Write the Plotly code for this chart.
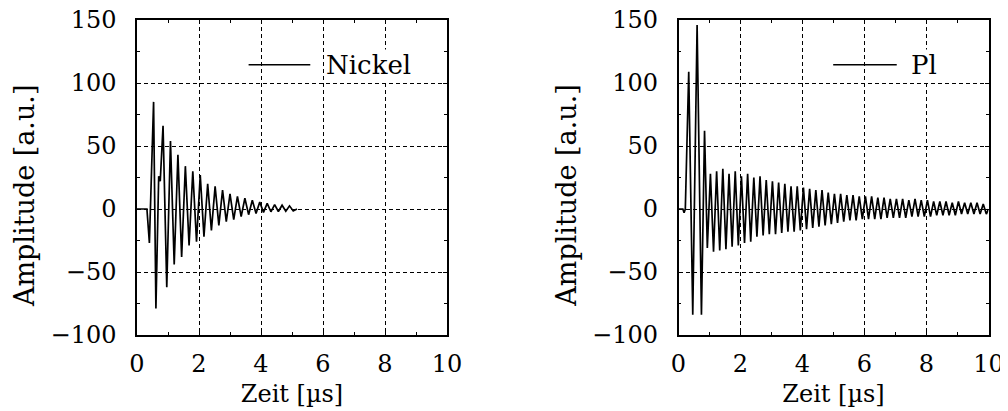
import plotly.graph_objects as go

# ---------------- data ----------------
# Nickel: extrema of the damped oscillation, time in µs, amplitude in a.u.
nickel_t = [0.0, 0.32, 0.40, 0.49, 0.535, 0.61, 0.70, 0.75,
            0.84, 0.96, 1.08, 1.20, 1.32, 1.44, 1.56, 1.68, 1.80, 1.92,
            2.04, 2.16, 2.28, 2.40, 2.52, 2.64, 2.76, 2.88, 3.00, 3.12,
            3.24, 3.36, 3.48, 3.60, 3.72, 3.84, 3.96, 4.08, 4.20, 4.32,
            4.44, 4.56, 4.68, 4.80, 4.92, 5.04, 5.16]
nickel_a = [0, 0, -27, 58, 85, -79, 26, 22,
            66, -62, 54, -44, 43, -38, 34, -29, 30, -26,
            27, -22, 20, -17, 18, -13, 15, -10, 12, -8.5,
            10, -6, 8.5, -4.5, 7, -3.5, 5.5, -2.7, 4.5, -2.2,
            3.5, -2, 3, -1.8, 2.5, -1.5, 0]

# Pl: extrema of the damped oscillation, time in µs, amplitude in a.u.
pl_t = [0.0, 0.14, 0.18, 0.22, 0.33, 0.46, 0.60, 0.74, 0.84, 0.93,
        1.03, 1.13, 1.23, 1.33, 1.43, 1.53, 1.63, 1.73, 1.83, 1.93,
        2.03, 2.13, 2.23, 2.33, 2.43, 2.53, 2.63, 2.73, 2.83, 2.93,
        3.03, 3.13, 3.23, 3.33, 3.43, 3.53, 3.63, 3.73, 3.83, 3.93,
        4.03, 4.13, 4.23, 4.33, 4.43, 4.53, 4.63, 4.73, 4.83, 4.93,
        5.03, 5.13, 5.23, 5.33, 5.43, 5.53, 5.63, 5.73, 5.83, 5.93,
        6.03, 6.13, 6.23, 6.33, 6.43, 6.53, 6.63, 6.73, 6.83, 6.93,
        7.03, 7.13, 7.23, 7.33, 7.43, 7.53, 7.63, 7.73, 7.83, 7.93,
        8.03, 8.13, 8.23, 8.33, 8.43, 8.53, 8.63, 8.73, 8.83, 8.93,
        9.03, 9.13, 9.23, 9.33, 9.43, 9.53, 9.63, 9.73, 9.83, 9.93, 10.0]
pl_a = [0, 0, -3, 0, 109, -84, 146, -84, 62, -31,
        28, -34, 30, -33, 32, -32, 28, -30, 30, -29,
        26, -27, 28, -26, 25, -22, 26, -21, 23, -20,
        22, -20, 21, -19, 20, -18, 18, -18, 18, -17,
        17, -16, 16, -15, 15, -14, 15, -13, 13, -12,
        12, -11, 12, -10, 11, -9, 11, -9, 10, -8,
        10, -8, 10, -8, 9, -8, 9, -7, 8, -7,
        8, -7, 8, -7, 7, -6, 8, -6, 7, -6,
        7, -6, 6, -5, 6, -5, 6, -5, 5, -5,
        6, -4, 5, -4, 5, -4, 5, -4, 4, -4, 0]

series_names = ["Nickel", "Pl"]
x_ticks = [0, 2, 4, 6, 8, 10]
y_ticks = [-100, -50, 0, 50, 100, 150]
x_title = "Zeit [µs]"
y_title = "Amplitude [a.u.]"
legend_y = 114.5

# ---------------- figure ----------------
FONT = "DejaVu Serif"
OFF = 8                      # the page body has an 8 px margin
W, H = 1008 - OFF, 411 - OFF
fig = go.Figure()

fig.add_trace(go.Scatter(x=nickel_t, y=nickel_a, mode="lines",
                         line=dict(color="black", width=1.7),
                         xaxis="x", yaxis="y", showlegend=False))
fig.add_trace(go.Scatter(x=pl_t, y=pl_a, mode="lines",
                         line=dict(color="black", width=1.7),
                         xaxis="x2", yaxis="y2", showlegend=False))

def px_x(p):
    return (p - OFF) / W

def px_y(p):
    return 1 - (p - OFF) / H

ydom = [px_y(335), px_y(20)]
xdom1 = [px_x(137), px_x(447)]
xdom2 = [px_x(678.5), px_x(988.5)]

def xaxis(domain, anchor):
    return dict(domain=domain, anchor=anchor, range=[0, 10], automargin=False,
                tickvals=x_ticks, ticktext=[str(v) for v in x_ticks],
                ticklabeloverflow="allow",
                showgrid=True, gridcolor="black", gridwidth=1, griddash="4px,3px",
                zeroline=False, showline=True, linecolor="black", linewidth=1.5,
                mirror="ticks", ticks="inside", ticklen=4, tickcolor="black",
                minor=dict(dtick=1, ticks="inside", ticklen=3, tickcolor="black", showgrid=False),
                tickfont=dict(family=FONT, size=24, color="black"),
                ticklabelstandoff=6,
                title=dict(text=x_title, font=dict(family=FONT, size=24, color="black"),
                           standoff=9))

def yaxis(domain, anchor):
    return dict(domain=domain, anchor=anchor, range=[-100, 150], automargin=False,
                tickvals=y_ticks, ticktext=[str(v).replace("-", "\u2212") for v in y_ticks],
                ticklabeloverflow="allow",
                showgrid=True, gridcolor="black", gridwidth=1, griddash="4px,3px",
                zeroline=False, showline=True, linecolor="black", linewidth=1.5,
                mirror="ticks", ticks="inside", ticklen=4, tickcolor="black",
                minor=dict(dtick=25, ticks="inside", ticklen=3, tickcolor="black", showgrid=False),
                tickfont=dict(family=FONT, size=24, color="black"),
                ticklabelstandoff=14)

fig.update_layout(
    width=W, height=H,
    margin=dict(l=0, r=0, t=0, b=0),
    paper_bgcolor="white", plot_bgcolor="white",
    xaxis=xaxis(xdom1, "y"), yaxis=yaxis(ydom, "x"),
    xaxis2=xaxis(xdom2, "y2"), yaxis2=yaxis(ydom, "x2"),
    showlegend=False,
)

# vertical axis titles (placed as in the reference, slightly below centre)
for cx in (25, 566.7):
    fig.add_annotation(xref="paper", yref="paper", x=px_x(cx), y=px_y(196),
                       text=y_title, textangle=-90, showarrow=False,
                       xanchor="center", yanchor="middle",
                       font=dict(family=FONT, size=27, color="black"))

# legend-like labels drawn as line sample + text
legend_items = [("x", "y", 3.6, 5.59, 6.07, series_names[0]),
                ("x2", "y2", 4.99, 7.04, 7.47, series_names[1])]
for xr, yr, x0, x1, xt, name in legend_items:
    fig.add_shape(type="line", xref=xr, yref=yr, x0=x0, x1=x1,
                  y0=legend_y, y1=legend_y, line=dict(color="black", width=1.4),
                  layer="above")
    fig.add_annotation(xref=xr, yref=yr, x=xt, y=legend_y, text=name,
                       showarrow=False, xanchor="left", yanchor="middle",
                       bgcolor="white", borderpad=0,
                       font=dict(family=FONT, size=26, color="black"))

fig.write_html("out.html")
